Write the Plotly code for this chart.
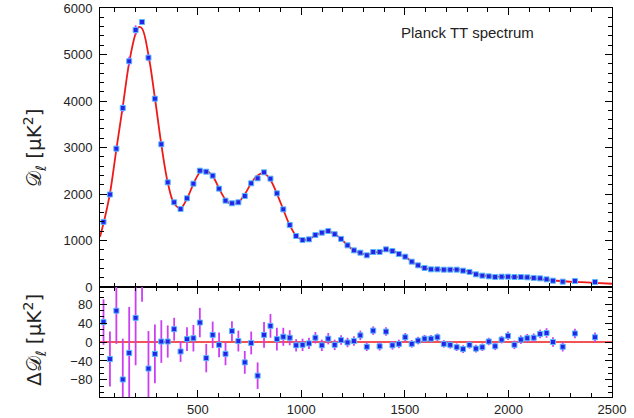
import plotly.graph_objects as go

# ---------------- data ----------------
ell = [45, 76, 107, 138, 169, 200, 231, 262, 293, 324, 355, 386, 417, 448, 479,
       510, 541, 572, 603, 634, 665, 696, 727, 758, 789, 820, 851, 882, 913, 944,
       975, 1006, 1037, 1068, 1099, 1130, 1161, 1192, 1223, 1254, 1285, 1316, 1347,
       1378, 1409, 1440, 1471, 1502, 1533, 1564, 1595, 1626, 1657, 1688, 1719, 1750,
       1781, 1812, 1843, 1874, 1905, 1936, 1967, 1998, 2029, 2060, 2091, 2122, 2153,
       2184, 2215, 2262, 2321, 2418]

D_ell = [1400, 1990, 2975, 3850, 4855, 5527, 5699, 4932, 4050, 3069, 2251, 1821,
         1677, 1907, 2222, 2502, 2480, 2394, 2115, 1857, 1800, 1821, 1957, 2230,
         2337, 2466, 2330, 2014, 1670, 1333, 1097, 1011, 1025, 1118, 1168, 1204,
         1136, 1035, 896, 788, 738, 681, 753, 753, 810, 774, 710, 652, 545, 466,
         409, 380, 380, 373, 373, 373, 351, 323, 272, 244, 229, 215, 222, 222, 215,
         215, 208, 194, 186, 165, 136, 115, 129, 107]

resid = [42, -36, 66, -79, -23, 51, 135, -56, -25, 1, 1, 27, -20, 6, 8, 41, -34,
         15, -6, -25, 23, 2, -43, -2, -71, 15, 34, 6, 11, 9, -7, -6, -3, 9, -7, 7,
         -6, 4, -1, 2, 14, -10, 24, -9, 22, -7, -4, 10, -4, 3, 7, 7, 10, -4, -6,
         -11, -15, -6, -14, -11, 1, -9, 5, 13, -6, 5, 8, 9, 17, 19, 0, -10, 18, 10]

err = [48, 58, 70, 86, 97, 100, 50, 79, 62, 45, 34, 24, 22, 25, 28, 31, 30, 28,
       26, 24, 21, 22, 24, 24, 28, 27, 25, 24, 19, 16, 13, 13, 12, 12, 12, 12, 11,
       10, 10, 10, 10, 9, 9, 9, 9, 9, 9, 9, 8, 8, 8, 8, 8, 8, 8, 8, 8, 8, 8, 8, 8,
       8, 8, 9, 9, 9, 9, 9, 9, 10, 10, 10, 10, 10]

ell_model = [28, 45, 76, 107, 138, 169, 200, 215, 231, 262, 293, 324, 355, 386,
             417, 448, 479, 510, 541, 572, 603, 634, 665, 696, 727, 758, 789, 820,
             851, 882, 913, 944, 975, 1006, 1037, 1068, 1099, 1130, 1161, 1192,
             1223, 1254, 1285, 1316, 1347, 1378, 1409, 1440, 1471, 1502, 1533,
             1564, 1595, 1626, 1688, 1750, 1781, 1812, 1843, 1874, 1905, 1967,
             2029, 2091, 2153, 2215, 2262, 2321, 2418, 2500]
D_model = [1080, 1370, 2010, 2960, 3880, 4830, 5450, 5590, 5560, 4990, 4070, 3070,
           2250, 1795, 1695, 1900, 2215, 2460, 2505, 2385, 2120, 1880, 1780, 1820,
           1995, 2230, 2400, 2450, 2300, 2010, 1665, 1330, 1100, 1015, 1028, 1110,
           1172, 1198, 1140, 1032, 897, 787, 732, 700, 730, 762, 785, 780, 714, 645,
           550, 465, 405, 378, 372, 378, 362, 328, 288, 255, 232, 218, 215, 203,
           172, 140, 124, 110, 90, 70]

top_ticks = [0, 1000, 2000, 3000, 4000, 5000, 6000]
res_ticks = [-80, -40, 0, 40, 80]
x_ticks = [500, 1000, 1500, 2000, 2500]

# ---------------- styles ----------------
RED = "#ee1a1a"
BLUE = "#2424e8"
EDGE = "#5ab8ff"
MAG = "#cc3ef2"
FONT = "Liberation Sans"

fig = go.Figure()

fig.add_trace(go.Scatter(x=ell_model, y=D_model, mode="lines",
                         line=dict(color=RED, width=1.8, shape="spline"),
                         xaxis="x", yaxis="y", showlegend=False))
fig.add_trace(go.Scatter(x=ell, y=D_ell, mode="markers",
                         marker=dict(symbol="square", size=5, color=BLUE,
                                     line=dict(color=EDGE, width=1)),
                         error_y=dict(type="data", array=err, color=MAG,
                                      thickness=1.8, width=0),
                         xaxis="x", yaxis="y", showlegend=False))

fig.add_trace(go.Scatter(x=[28, 2500], y=[0, 0], mode="lines",
                         line=dict(color=RED, width=1.5),
                         xaxis="x2", yaxis="y2", showlegend=False))
fig.add_trace(go.Scatter(x=ell, y=resid, mode="markers",
                         marker=dict(symbol="square", size=5, color=BLUE,
                                     line=dict(color=EDGE, width=1)),
                         error_y=dict(type="data", array=err, color=MAG,
                                      thickness=1.8, width=0),
                         xaxis="x2", yaxis="y2", showlegend=False))

split = 110 / 389

axis_common = dict(showline=True, linecolor="black", linewidth=1, mirror="ticks",
                   ticks="inside", tickcolor="black", showgrid=False, zeroline=False,
                   automargin=False,
                   tickfont=dict(family=FONT, size=13, color="#222"))

fig.update_layout(
    width=634, height=418,
    autosize=False,
    margin=dict(l=100, r=22, t=8, b=21, pad=0, autoexpand=False),
    paper_bgcolor="white", plot_bgcolor="white",
    xaxis=dict(axis_common, domain=[0, 1], range=[28, 2500], anchor="y",
               tickvals=x_ticks, showticklabels=False, ticklen=7,
               minor=dict(dtick=100, tick0=0, ticklen=4, ticks="inside",
                          tickcolor="black")),
    yaxis=dict(axis_common, domain=[split, 1], range=[0, 6000], anchor="x",
               tickvals=top_ticks, ticklen=7, ticklabelstandoff=4,
               minor=dict(dtick=200, tick0=0, ticklen=4, ticks="inside",
                          tickcolor="black")),
    xaxis2=dict(axis_common, domain=[0, 1], range=[28, 2500], anchor="y2",
                matches="x", tickvals=x_ticks, ticklen=7,
                minor=dict(dtick=100, tick0=0, ticklen=4, ticks="inside",
                           tickcolor="black")),
    yaxis2=dict(axis_common, domain=[0, split], range=[-116, 116], anchor="x2",
                tickvals=res_ticks, ticklen=7, ticklabelstandoff=4,
                minor=dict(dtick=40 / 3, tick0=0, ticklen=4, ticks="inside",
                           tickcolor="black")),
    annotations=[
        dict(text="Planck TT spectrum", xref="paper", yref="paper",
             x=(467 - 100) / 512, y=(397 - 32) / 389, showarrow=False,
             xanchor="center", yanchor="middle",
             font=dict(family=FONT, size=15, color="#222")),
        dict(text="𝒟<sub>ℓ</sub> [μK<sup>2</sup>]", xref="paper", yref="paper",
             x=(34 - 100) / 512, y=(397 - 148) / 389, showarrow=False,
             textangle=-90, xanchor="center", yanchor="middle",
             font=dict(family="DejaVu Sans", size=20, color="#222")),
        dict(text="Δ𝒟<sub>ℓ</sub> [μK<sup>2</sup>]", xref="paper", yref="paper",
             x=(34 - 100) / 512, y=(397 - 340) / 389, showarrow=False,
             textangle=-90, xanchor="center", yanchor="middle",
             font=dict(family="DejaVu Sans", size=20, color="#222")),
    ],
)

fig.write_html("out.html")
